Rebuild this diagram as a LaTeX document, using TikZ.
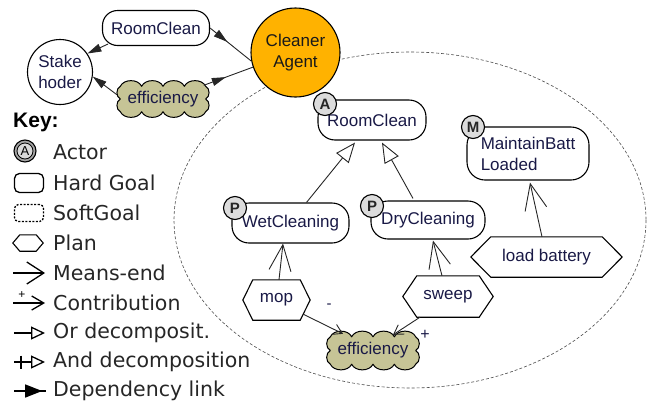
\documentclass[tikz,border=0pt]{standalone}
\usepackage{fontspec}
\setmainfont{Liberation Sans}
\newfontfamily\keyfont{DejaVu Sans}
\usetikzlibrary{arrows.meta,decorations.markings,calc,backgrounds}
\definecolor{agentc}{RGB}{255,178,0}
\definecolor{softc}{RGB}{198,196,150}
\definecolor{badgec}{RGB}{220,220,220}
\definecolor{txtc}{RGB}{25,25,70}
\newcommand\hexpath[2]{%
  \draw[line width=1.1pt] (#1.west) -- ($(#1.north west)+(#2,0)$) -- ($(#1.north east)+(-#2,0)$) -- (#1.east) -- ($(#1.south east)+(-#2,0)$) -- ($(#1.south west)+(#2,0)$) -- cycle;}
\newcommand\cloudpath[3]{%
  \begin{scope}[on background layer]
  \draw[line width=1pt, fill=softc, line join=round] (#1.north west)
    \foreach \i in {1,...,#2} { to[bend left=65] ($(#1.north west)!\i/#2!(#1.north east)$) }
    \foreach \i in {1,...,#3} { to[bend left=65] ($(#1.north east)!\i/#3!(#1.south east)$) }
    \foreach \i in {1,...,#2} { to[bend left=65] ($(#1.south east)!\i/#2!(#1.south west)$) }
    \foreach \i in {1,...,#3} { to[bend left=65] ($(#1.south west)!\i/#3!(#1.north west)$) } -- cycle;
  \end{scope}}
\begin{document}
\begin{tikzpicture}[x=1pt,y=-1pt,
  lbl/.style={font=\fontsize{17}{21}\selectfont, text=txtc},
  actorc/.style={circle, draw, line width=1.1pt, inner sep=0pt, align=center, lbl},
  goal/.style={draw, line width=1.1pt, rounded corners=#1, fill=white, lbl, inner sep=0pt},
  soft/.style={rectangle, draw=none, inner sep=0pt, lbl},
  planbox/.style={draw=none, inner sep=0pt, minimum height=40pt, lbl},
  badge/.style={circle, draw, line width=1.1pt, fill=badgec, inner sep=0pt, minimum size=23pt, text=black!85, font=\fontsize{15}{15}\selectfont\bfseries},
  link/.style={line width=0.9pt, draw=black!85},
  deplink/.style={link, postaction={decorate}, decoration={markings, mark=at position #1 with {\arrow{Triangle[length=14pt,width=8pt]}}}},
  meansend/.style={link, -{Straight Barb[length=26pt,width=22pt]}},
  contrib/.style={link, -{Straight Barb[length=9pt,width=11pt]}},
  ordec/.style={link, -{Triangle[open,length=20pt,width=16pt,fill=white]}},
  keytxt/.style={anchor=west, font=\keyfont\fontsize{20.5}{24}\selectfont, text=black!85, inner sep=0pt},
  keyln/.style={line width=1.3pt},
]
\useasboundingbox (0,0) rectangle (656,405);
% boundary of the agent
\draw[line width=0.6pt, black!70, dash pattern=on 3pt off 2pt] (410,220) ellipse [x radius=236, y radius=168];
% outer level
\node[actorc, minimum size=65pt] (stake) at (60,72) {Stake\\hoder};
\node[goal=15pt, minimum width=107pt, minimum height=35pt] (rc0) at (156,28) {RoomClean};
\node[soft, minimum width=85pt, minimum height=25pt] (eff0) at (163,99) {efficiency};
\cloudpath{eff0}{4}{2}
\node[actorc, fill=agentc, minimum size=89pt, text=black!90] (agent) at (295.5,52.5) {Cleaner\\Agent};
\draw[link, -{Triangle[length=14pt,width=8pt]}] ($(rc0.south west)+(6,-2)$) -- (stake.34);
\draw[link, -{Triangle[length=14pt,width=8pt]}] ($(eff0.west)+(-3,-4)$) -- (stake.-8);
\draw[deplink=0.42] (rc0.east) -- (agent.191);
\draw[deplink=0.45] ($(eff0.north east)+(-2,-1)$) -- (agent.199);
% inner goals
\node[goal=17pt, minimum width=108pt, minimum height=40pt] (rc) at (372,120) {RoomClean};
\node[badge] (bA) at (325,104) {A};
\node[goal=17pt, minimum width=117pt, minimum height=40pt] (wet) at (290.5,223) {WetCleaning};
\node[badge] (bP1) at (235,208) {P};
\node[goal=17pt, minimum width=114pt, minimum height=38pt] (dry) at (428,220) {DryCleaning};
\node[badge] (bP2) at (372,206) {P};
\node[goal=18pt, minimum width=122pt, minimum height=53pt, align=left] (mbl) at (528,153.5) {MaintainBatt\\Loaded};
\node[badge] (bM) at (473,127) {M};
% plans
\node[planbox, minimum width=151pt] (lb) at (546.5,257) {load battery};
\hexpath{lb}{20}
\node[planbox, minimum width=67pt] (mop) at (276.5,300) {mop};
\hexpath{mop}{10}
\node[planbox, minimum width=90pt, minimum height=41pt] (sweep) at (448,296.5) {sweep};
\hexpath{sweep}{14}
\node[soft, minimum width=85pt, minimum height=27pt] (eff) at (373,350.5) {efficiency};
\cloudpath{eff}{4}{2}
% links
\draw[ordec] ($(wet.north)+(16,0)$) -- ($(rc.south)+(-17,2)$);
\draw[ordec] ($(dry.north)+(-15,-2)$) -- ($(rc.south)+(10,2)$);
\draw[meansend] ($(mop.north)+(2.5,0)$) -- ($(wet.south)+(-7.5,0)$);
\draw[meansend] ($(sweep.north)+(-6,0)$) -- ($(dry.south)+(5,1)$);
\draw[meansend] ($(lb.north)+(-4.5,0)$) -- ($(mbl.south)+(2,2)$);
\draw[contrib] ($(mop.south east)+(-7,-6)$) -- ($(eff.north)+(-30,-3)$);
\draw[contrib] ($(sweep.south)+(-28,0)$) -- ($(eff.north)+(20,-2)$);
\node[lbl, font=\fontsize{15}{15}\selectfont] (minus) at (329,306) {-};
\node[lbl, font=\fontsize{16}{16}\selectfont] (plus) at (425,335) {+};
% key
\node[anchor=west, inner sep=0pt, font=\bfseries\fontsize{21}{21}\selectfont] (key) at (13,122) {Key:};
\node[circle, draw, line width=1.1pt, fill=black!35, minimum size=22pt, inner sep=0pt] (kA) at (25,151) {};
\node[circle, draw, line width=0.8pt, fill=black!15, minimum size=16pt, inner sep=0pt, font=\fontsize{13}{13}\selectfont] (kAin) at (kA) {A};
\node[keytxt] (tA) at (53,152) {Actor};
\node[draw, line width=1.3pt, rounded corners=5pt, minimum width=29pt, minimum height=19pt, inner sep=0pt] (kH) at (29,183) {};
\node[keytxt] (tH) at (53,183) {Hard Goal};
\node[draw, line width=1.3pt, dash pattern=on 2pt off 1.5pt, rounded corners=4pt, minimum width=29pt, minimum height=17pt, inner sep=0pt] (kS) at (29,213) {};
\node[keytxt] (tS) at (53,213) {SoftGoal};
\node[planbox, minimum width=30pt, minimum height=16pt] (kP) at (28,243) {};
\hexpath{kP}{7}
\node[keytxt] (tP) at (53,243) {Plan};
\coordinate (m1) at (13,273); \coordinate (m2) at (45,273);
\draw[keyln, -{Straight Barb[length=17pt,width=22pt]}] (m1) -- (m2);
\node[keytxt] (tM) at (53,273) {Means-end};
\coordinate (c1) at (13,303); \coordinate (c2) at (45,303);
\draw[keyln, -{Straight Barb[length=12pt,width=14pt]}] (c1) -- (c2);
\node[font=\fontsize{12}{12}\selectfont, inner sep=0pt] (cplus) at (22,295) {+};
\node[keytxt] (tC) at (53,303) {Contribution};
\coordinate (o1) at (14,333); \coordinate (o2) at (45,333);
\draw[keyln, -{Triangle[open,length=14pt,width=13pt,fill=white]}] (o1) -- (o2);
\node[keytxt] (tO) at (53,333) {Or decomposit.};
\coordinate (a1) at (14,362); \coordinate (a2) at (45,362);
\draw[keyln, -{Triangle[open,length=14pt,width=13pt,fill=white]}] (a1) -- (a2);
\draw[keyln] (21,355.5) -- (21,368.5);
\node[keytxt] (tAnd) at (53,362) {And decomposition};
\coordinate (d1) at (14,391); \coordinate (d2) at (46,391);
\draw[keyln, postaction={decorate}, decoration={markings, mark=at position 0.88 with {\arrow{Triangle[length=17pt,width=13pt]}}}] (d1) -- (d2);
\node[keytxt] (tD) at (53,391) {Dependency link};
\end{tikzpicture}
\end{document}
